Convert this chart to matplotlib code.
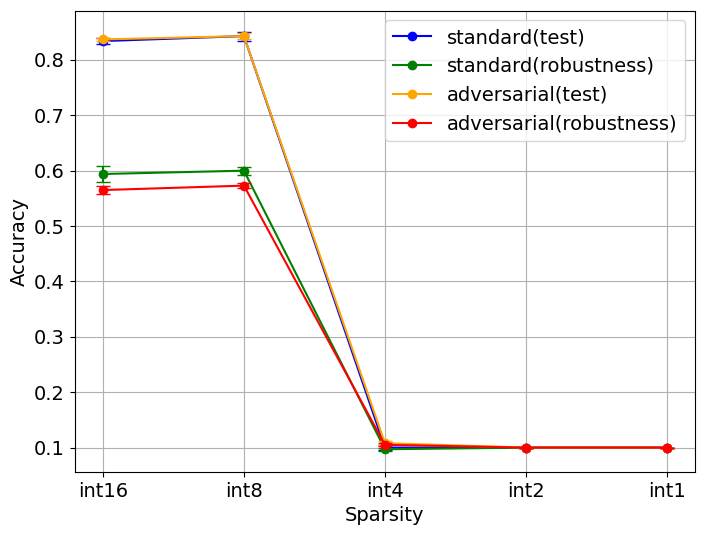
import matplotlib
matplotlib.use("Agg")
import matplotlib.pyplot as plt

categories = ["int16", "int8", "int4", "int2", "int1"]
std_test = [0.834, 0.843, 0.100, 0.100, 0.100]
std_test_err = [0.005, 0.008, 0.004, 0.0, 0.0]
std_rob = [0.594, 0.600, 0.097, 0.100, 0.100]
std_rob_err = [0.014, 0.007, 0.003, 0.0, 0.0]
adv_test = [0.837, 0.843, 0.108, 0.100, 0.100]
adv_test_err = [0.003, 0.005, 0.003, 0.0, 0.0]
adv_rob = [0.565, 0.573, 0.105, 0.100, 0.100]
adv_rob_err = [0.008, 0.005, 0.003, 0.0, 0.0]

plt.rcParams['font.size'] = 14
fig, ax = plt.subplots(figsize=(7.05, 5.35), dpi=100)
x = list(range(len(categories)))
series = [
    ("standard(test)", std_test, std_test_err, "blue"),
    ("standard(robustness)", std_rob, std_rob_err, "green"),
    ("adversarial(test)", adv_test, adv_test_err, "orange"),
    ("adversarial(robustness)", adv_rob, adv_rob_err, "red"),
]
for label, vals, errs, c in series:
    ax.errorbar(x, vals, yerr=errs, color=c, fmt='none', capsize=5)
    ax.plot(x, vals, color=c, marker='o', label=label)
ax.set_xticks(x)
ax.set_xticklabels(categories)
ax.set_xlabel("Sparsity")
ax.set_ylabel("Accuracy")
ax.grid(True)
ax.legend(loc='upper right')
fig.subplots_adjust(left=0.106, right=0.986, top=0.980, bottom=0.118)
fig.savefig("out.png")
